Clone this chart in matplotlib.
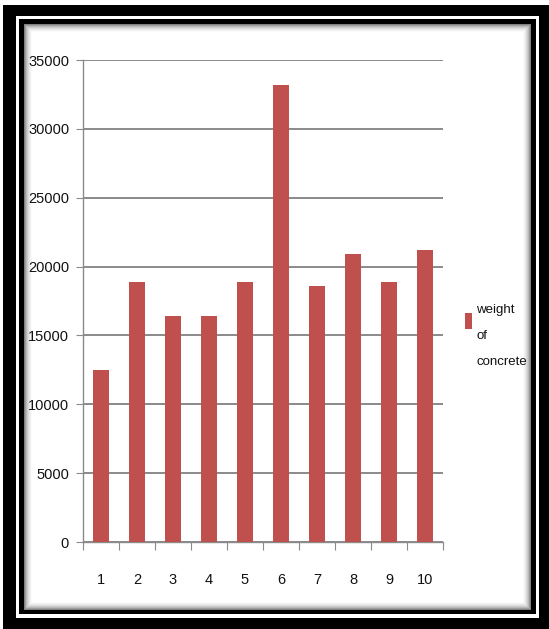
import matplotlib.pyplot as plt
from matplotlib.patches import Rectangle

# data
categories = ['1', '2', '3', '4', '5', '6', '7', '8', '9', '10']
weights = [12500, 18900, 16400, 16400, 18900, 33200, 18600, 20900, 18900, 21200]
y_ticks = [0, 5000, 10000, 15000, 20000, 25000, 30000, 35000]
series_name = 'weight\nof\nconcrete'

W, H = 549, 629
plt.rcParams['font.family'] = ['Liberation Sans', 'DejaVu Sans']

fig = plt.figure(figsize=(W / 100, H / 100), dpi=100)


def box(x0, y0, x1, y1, color, z):
    # rectangle in pixel coords, measured from the top left
    r = Rectangle((x0 / W, 1 - y1 / H), (x1 - x0) / W, (y1 - y0) / H,
                  transform=fig.transFigure, facecolor=color,
                  edgecolor='none', zorder=z)
    fig.add_artist(r)


# picture frame: thick black border, thin white gap, thin black line
box(3, 5, 549, 629, 'black', -10)
box(16, 16, 539, 618, 'white', -9)
box(19, 19, 536, 614, 'black', -8)
# grey shadow fading into the white chart area
shades = [0.50, 0.62, 0.72, 0.80, 0.86, 0.91, 0.95, 0.98, 1.0]
for i, s in enumerate(shades):
    box(24 + i, 24 + i, 531 - i, 610 - i, str(s), -7 + i * 0.1)

ax = fig.add_axes([83 / W, 1 - 542 / H, 360 / W, 482 / H])
ax.set_zorder(1)
ax.patch.set_alpha(0)

x = list(range(1, len(categories) + 1))
ax.bar(x, weights, width=0.42, color='#C0504D', label=series_name, zorder=3)

ax.set_xlim(0.5, len(categories) + 0.5)
ax.set_ylim(0, 35000)
ax.set_yticks(y_ticks)
ax.set_yticklabels([str(v) for v in y_ticks], fontsize=10.5, color='#111111')
ax.yaxis.grid(True, color='#8a8a8a', linewidth=1.4, zorder=0)
ax.set_axisbelow(True)

# category ticks sit between the bars, labels at the bar centres
ax.set_xticks([i + 0.5 for i in range(len(categories) + 1)])
ax.set_xticklabels([])
ax.set_xticks(x, minor=True)
ax.set_xticklabels(categories, minor=True, fontsize=10.5, color='#111111')
ax.tick_params(axis='x', which='minor', length=0, pad=22)
ax.tick_params(axis='x', which='major', length=6, color='#8a8a8a')
ax.tick_params(axis='y', length=5, color='#8a8a8a', pad=5)

for side in ['top', 'right']:
    ax.spines[side].set_visible(False)
for side in ['left', 'bottom']:
    ax.spines[side].set_color('#8a8a8a')
    ax.spines[side].set_linewidth(1.0)

leg = ax.legend(loc='upper left', bbox_to_anchor=(465 / W, 1 - 304 / H),
                bbox_transform=fig.transFigure, frameon=False,
                fontsize=9.5, handlelength=0.55, handleheight=1.5,
                handletextpad=0.3, borderpad=0, borderaxespad=0)
for t in leg.get_texts():
    t.set_linespacing(2.55)
    t.set_color('#111111')
# the colour key sits beside the first two lines, not the middle
handle = leg.legend_handles[0]
handle.set_y(handle.get_y() + 11)

fig.savefig('out.png', dpi=100)
